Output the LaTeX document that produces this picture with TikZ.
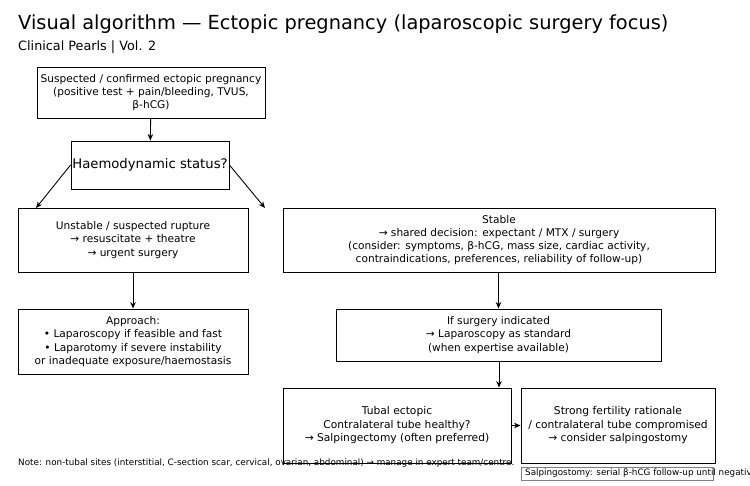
\documentclass[tikz,border=0pt]{standalone}
\usepackage{fontspec}
\setmainfont{DejaVu Sans}
\usetikzlibrary{arrows.meta}
\begin{document}
\begin{tikzpicture}[x=1pt,y=-1pt,
  box/.style={draw=black,line width=0.9pt,inner sep=0pt,align=center,font=\fontsize{10.6}{13.2}\selectfont},
  arr/.style={-{Stealth[length=6.5pt,width=5.5pt]},line width=0.9pt},
  every node/.style={text=black}]
\useasboundingbox (0,0) rectangle (750,485);
% title
\node[anchor=base west,inner sep=0pt,font=\fontsize{19.4}{22}\selectfont] (title) at (18,29) {Visual algorithm — Ectopic pregnancy (laparoscopic surgery focus)};
\node[anchor=base west,inner sep=0pt,font=\fontsize{12.8}{14}\selectfont] (sub) at (18,50) {Clinical Pearls | Vol. 2};
% boxes
\node[box,minimum width=228,minimum height=51] (A) at (151,92.5) {Suspected / confirmed ectopic pregnancy\\(positive test + pain/bleeding, TVUS,\\β-hCG)};
\node[box,minimum width=158,minimum height=48,font=\fontsize{13.2}{15}\selectfont] (B) at (150,165) {Haemodynamic status?};
\node[box,minimum width=230,minimum height=64] (C) at (133,240) {Unstable / suspected rupture\\→ resuscitate + theatre\\→ urgent surgery};
\node[box,minimum width=432,minimum height=64] (D) at (499,240) {Stable\\→ shared decision: expectant / MTX / surgery\\(consider: symptoms, β-hCG, mass size, cardiac activity,\\contraindications, preferences, reliability of follow-up)};
\node[box,minimum width=230,minimum height=65] (E) at (133,341.5) {Approach:\\• Laparoscopy if feasible and fast\\• Laparotomy if severe instability\\or inadequate exposure/haemostasis};
\node[box,minimum width=325,minimum height=52] (F) at (498.5,335) {If surgery indicated\\→ Laparoscopy as standard\\(when expertise available)};
\node[anchor=west,inner sep=0pt,font=\fontsize{8.8}{10}\selectfont] (note) at (18,463) {Note: non-tubal sites (interstitial, C-section scar, cervical, ovarian, abdominal) → manage in expert team/centre.};
\node[box,minimum width=228,minimum height=75,font=\fontsize{10.7}{13.5}\selectfont] (G) at (397,425.5) {Tubal ectopic\\Contralateral tube healthy?\\→ Salpingectomy (often preferred)};
\node[box,minimum width=194,minimum height=75,font=\fontsize{10.7}{13.5}\selectfont] (H) at (618,425.5) {Strong fertility rationale\\/ contralateral tube compromised\\→ consider salpingostomy};
\draw[gray,line width=0.8pt] (521,467) rectangle (713,480);
\node[anchor=west,inner sep=0pt,font=\fontsize{8.8}{9}\selectfont] (salp) at (525,473.5) {Salpingostomy: serial β-hCG follow-up until negative};
% connectors
\coordinate (L) at (36,208);
\coordinate (R) at (265,208);
\draw[arr] (A) -- (B);
\draw[arr] (B.west) -- (L);
\draw[arr] (B.east) -- (R);
\draw[arr] (C) -- (E);
\draw[arr] (D.south -| F) -- (F);
\draw[arr] (F.south -| 499,0) -- (G.north -| 499,0);
\draw[arr] (G) -- (H);
\end{tikzpicture}
\end{document}
